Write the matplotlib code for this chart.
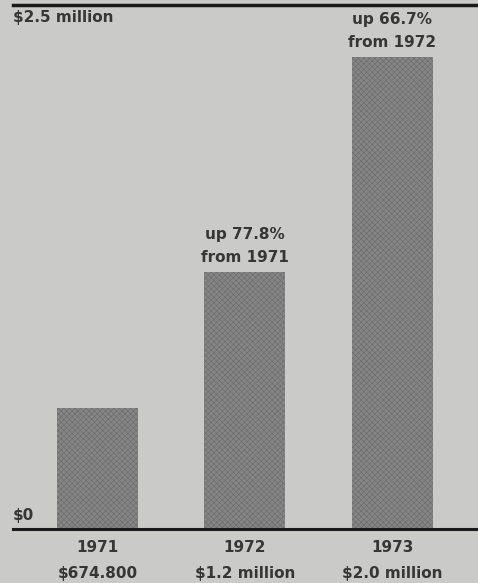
"""Bar chart: yearly totals 1971-1973, newsprint style."""

import matplotlib.pyplot as plt

years = ["1971", "1972", "1973"]
amount_labels = ["$674.800", "$1.2 million", "$2.0 million"]
# bar heights in millions of dollars, as drawn in the picture
heights = [0.577, 1.226, 2.252]
change_labels = ["", "up 77.8%\nfrom 1971", "up 66.7%\nfrom 1972"]

BG = "#cacac8"
BAR = "#858585"
INK = "#363636"

plt.rcParams["hatch.linewidth"] = 0.4

fig = plt.figure(figsize=(4.78, 5.83), dpi=100, facecolor=BG)
ax = fig.add_axes([13 / 478, 54 / 583, 465 / 478, 524 / 583])
ax.set_facecolor(BG)

xs = range(len(years))
ax.bar(xs, heights, width=0.55, color=BAR, hatch="xxxxxx",
       edgecolor="#6a6a6a", linewidth=0)

ax.set_xlim(-0.573, 2.583)
ax.set_ylim(0, 2.5)

for spine in ["left", "right"]:
    ax.spines[spine].set_visible(False)
ax.spines["top"].set_linewidth(2.5)
ax.spines["bottom"].set_linewidth(2.2)
ax.spines["top"].set_color("#1a1a1a")
ax.spines["bottom"].set_color("#1a1a1a")
ax.set_xticks([])
ax.set_yticks([])

font = dict(family="DejaVu Sans", weight="bold", color=INK, fontsize=11)

ax.text(0.0, 2.475, "$2.5 million", ha="left", va="top",
        transform=ax.get_yaxis_transform(), **font)
ax.text(0.0, 0.03, "$0", ha="left", va="bottom",
        transform=ax.get_yaxis_transform(), **font)

for x, h, lab in zip(xs, heights, change_labels):
    if lab:
        ax.annotate(lab, (x, h), xytext=(0, 5), textcoords="offset points",
                    ha="center", va="bottom", linespacing=1.65, **font)

for x, yr, amt in zip(xs, years, amount_labels):
    ax.annotate(yr + "\n" + amt, (x, 0), xytext=(0, -8),
                textcoords="offset points", ha="center", va="top",
                linespacing=1.9, annotation_clip=False, **font)

fig.savefig("out.png", dpi=100, facecolor=BG)
